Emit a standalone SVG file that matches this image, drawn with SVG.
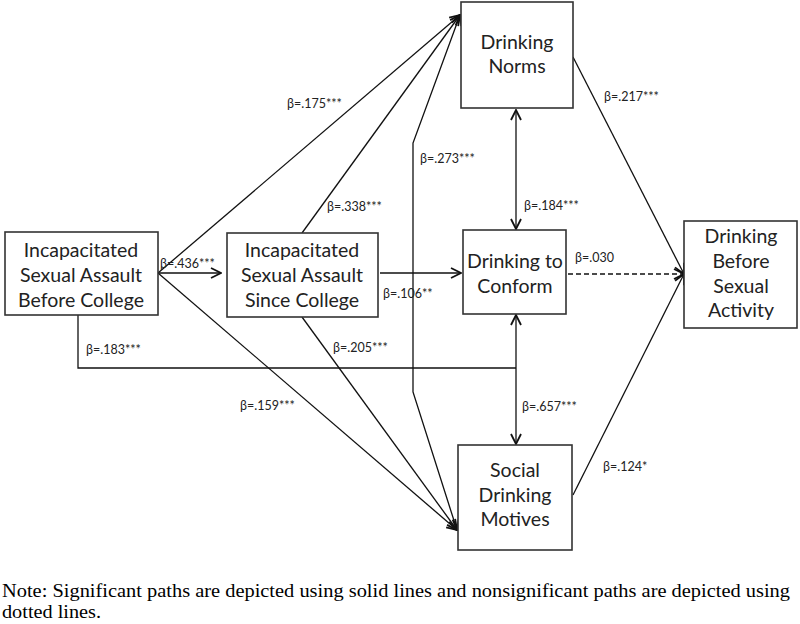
<svg xmlns="http://www.w3.org/2000/svg" width="800" height="624" viewBox="0 0 800 624">
<style>
.box{fill:#fff;stroke:#333;stroke-width:1.6}
.nt{font-family:Lato,"Open Sans",sans-serif;font-size:19.5px;fill:#222;text-anchor:middle}
.lb{font-family:Lato,"Open Sans",sans-serif;font-size:12.5px;fill:#222}
.ln{fill:none;stroke:#111;stroke-width:1.3}
.note{font-family:"Liberation Serif",serif;font-size:19px;fill:#000}
</style>
<defs>
<marker id="ah" viewBox="0 0 12 12" refX="11" refY="6" markerWidth="12" markerHeight="12" markerUnits="userSpaceOnUse" orient="auto-start-reverse">
<path d="M1,1 L11,6 L1,11" fill="none" stroke="#111" stroke-width="1.8"/>
</marker>
</defs>
<rect width="800" height="624" fill="#fff"/>
<g id="connectors">
<line class="ln" x1="158" y1="273" x2="221" y2="273" marker-end="url(#ah)"/>
<line class="ln" x1="158" y1="273" x2="460" y2="15" marker-end="url(#ah)"/>
<line class="ln" x1="158" y1="273" x2="457" y2="530" marker-end="url(#ah)"/>
<line class="ln" x1="302" y1="233" x2="460" y2="15" marker-end="url(#ah)"/>
<line class="ln" x1="302" y1="317" x2="457" y2="530" marker-end="url(#ah)"/>
<line class="ln" x1="380" y1="273" x2="461" y2="273" marker-end="url(#ah)"/>
<polyline class="ln" points="457,530 413,392 413,143 460,15" marker-start="url(#ah)" marker-end="url(#ah)"/>
<line class="ln" x1="516" y1="110" x2="516" y2="229" marker-start="url(#ah)" marker-end="url(#ah)"/>
<line class="ln" x1="516" y1="315" x2="516" y2="444" marker-start="url(#ah)" marker-end="url(#ah)"/>
<polyline class="ln" points="78,315 78,368 516,368"/>
<line class="ln" x1="573" y1="57" x2="684" y2="274" marker-end="url(#ah)"/>
<line class="ln" x1="568" y1="274" x2="684" y2="274" stroke-dasharray="5,3" marker-end="url(#ah)"/>
<line class="ln" x1="573" y1="495" x2="684" y2="274" marker-end="url(#ah)"/>
</g>
<g id="n_before">
<rect class="box" x="5" y="232" width="153" height="83"/>
<text class="nt" x="81" y="257">Incapacitated</text>
<text class="nt" x="81" y="282">Sexual Assault</text>
<text class="nt" x="81" y="307">Before College</text>
</g>
<g id="n_since">
<rect class="box" x="227" y="233" width="151" height="84"/>
<text class="nt" x="302" y="257">Incapacitated</text>
<text class="nt" x="302" y="282">Sexual Assault</text>
<text class="nt" x="302" y="307">Since College</text>
</g>
<g id="n_norms">
<rect class="box" x="461" y="2" width="112" height="106"/>
<text class="nt" x="517" y="49">Drinking</text>
<text class="nt" x="517" y="73">Norms</text>
</g>
<g id="n_conform">
<rect class="box" x="463" y="230" width="103" height="84"/>
<text class="nt" x="515" y="268">Drinking to</text>
<text class="nt" x="515" y="293">Conform</text>
</g>
<g id="n_dbsa">
<rect class="box" x="684" y="221" width="113" height="107"/>
<text class="nt" x="741" y="243">Drinking</text>
<text class="nt" x="741" y="268">Before</text>
<text class="nt" x="741" y="293">Sexual</text>
<text class="nt" x="741" y="317">Activity</text>
</g>
<g id="n_social">
<rect class="box" x="458" y="445" width="114" height="105"/>
<text class="nt" x="515" y="477">Social</text>
<text class="nt" x="515" y="502">Drinking</text>
<text class="nt" x="515" y="526">Motives</text>
</g>
<g id="labels">
<text class="lb" x="287" y="108">β=.175***</text>
<text class="lb" x="327" y="211">β=.338***</text>
<text class="lb" x="420" y="163">β=.273***</text>
<text class="lb" x="604" y="101">β=.217***</text>
<text class="lb" x="524" y="210">β=.184***</text>
<text class="lb" x="575" y="262">β=.030</text>
<text class="lb" x="160" y="268">β=.436***</text>
<text class="lb" x="383" y="298">β=.106**</text>
<text class="lb" x="86" y="354">β=.183***</text>
<text class="lb" x="333" y="352">β=.205***</text>
<text class="lb" x="240" y="410">β=.159***</text>
<text class="lb" x="522" y="411">β=.657***</text>
<text class="lb" x="603" y="471">β=.124*</text>
</g>
<g id="note">
<text class="note" x="2" y="597" textLength="788" lengthAdjust="spacingAndGlyphs">Note: Significant paths are depicted using solid lines and nonsignificant paths are depicted using</text>
<text class="note" x="2" y="618" textLength="99" lengthAdjust="spacingAndGlyphs">dotted lines.</text>
</g>
</svg>
